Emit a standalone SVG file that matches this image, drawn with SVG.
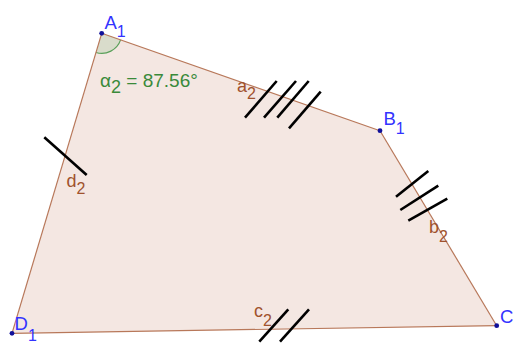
<svg xmlns="http://www.w3.org/2000/svg" width="515" height="343" viewBox="0 0 515 343">
<style>
.edge{fill:none;stroke:#b8785a;stroke-width:1.2}
.tick{stroke:#000;stroke-width:2.6;stroke-linecap:butt}
.pt{fill:#10109a}
.plab{font-family:"Liberation Sans",Arial,sans-serif;font-size:18.5px;fill:#3333ff}
.slab{font-family:"Liberation Sans",Arial,sans-serif;font-size:18px;fill:#a0522d}
.sub{font-size:16px}
.ang{font-family:"Liberation Sans",Arial,sans-serif;font-size:19px;fill:#3a8a3a}
</style>
<rect width="515" height="343" fill="#ffffff"/>
<g id="quad">
<polygon points="101.7,33.3 380,130.7 496.7,325.7 12,333.3" fill="#f4e7e2" stroke="none"/>
</g>
<g id="angle">
<path d="M101.7,33.3 L120.6,39.9 A20,20 0 0 1 96,52.5 Z" fill="#d9dccb" stroke="none"/>
<path d="M120.6,39.9 A20,20 0 0 1 96,52.5" fill="none" stroke="#5aa05a" stroke-width="1.2"/>
<text class="ang" x="100" y="86.7">α<tspan dy="6" font-size="18px">2</tspan><tspan dy="-6"> = 87.56°</tspan></text>
</g>
<g id="connectors">
<line id="a2" class="edge" x1="101.7" y1="33.3" x2="380" y2="130.7"/>
<line id="b2" class="edge" x1="380" y1="130.7" x2="496.7" y2="325.7"/>
<line id="c2" class="edge" x1="496.7" y1="325.7" x2="12" y2="333.3"/>
<line id="d2" class="edge" x1="12" y1="333.3" x2="101.7" y2="33.3"/>
</g>
<g id="ticks">
<line class="tick" x1="245" y1="117.7" x2="276.7" y2="81"/>
<line class="tick" x1="264" y1="117.7" x2="296" y2="81"/>
<line class="tick" x1="277.3" y1="117.7" x2="308.7" y2="81"/>
<line class="tick" x1="289" y1="128.3" x2="320.7" y2="91.7"/>
<line class="tick" x1="396" y1="196.7" x2="428.3" y2="171"/>
<line class="tick" x1="400.3" y1="210" x2="438.3" y2="185.7"/>
<line class="tick" x1="408.3" y1="220.7" x2="447.3" y2="198.7"/>
<line class="tick" x1="259.3" y1="341.7" x2="288.3" y2="309.3"/>
<line class="tick" x1="280" y1="341.7" x2="309" y2="309.3"/>
<line class="tick" x1="44.3" y1="137.3" x2="86.7" y2="175"/>
</g>
<g id="segment-labels">
<text class="slab" x="237" y="91.7">a<tspan class="sub" dy="7.5">2</tspan></text>
<text class="slab" x="429" y="233">b<tspan class="sub" dy="8.5">2</tspan></text>
<text class="slab" x="254" y="317.3">c<tspan class="sub" dy="9">2</tspan></text>
<text class="slab" x="66.5" y="186.7">d<tspan class="sub" dy="7.5">2</tspan></text>
</g>
<g id="A1">
<circle class="pt" cx="101.7" cy="33.3" r="2.4"/>
<text class="plab" x="104.5" y="28.5">A<tspan class="sub" dy="8">1</tspan></text>
</g>
<g id="B1">
<circle class="pt" cx="380" cy="130.7" r="2.4"/>
<text class="plab" x="383.5" y="124.5">B<tspan class="sub" dy="9">1</tspan></text>
</g>
<g id="C">
<circle class="pt" cx="496.7" cy="325.7" r="2.4"/>
<text class="plab" x="500" y="322.5">C</text>
</g>
<g id="D1">
<circle class="pt" cx="12" cy="333.3" r="2.4"/>
<text class="plab" x="14.5" y="329.5">D<tspan class="sub" dy="11">1</tspan></text>
</g>
</svg>
